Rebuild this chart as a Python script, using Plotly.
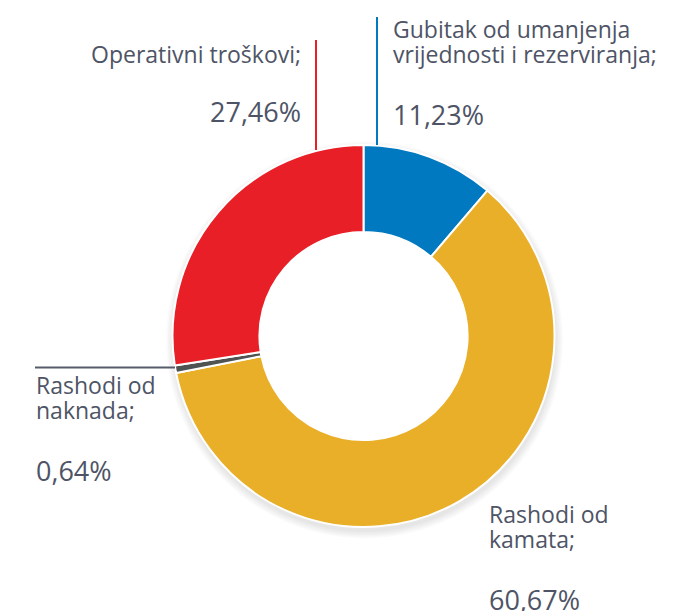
import plotly.graph_objects as go

# ---- data ----
labels = [
    "Gubitak od umanjenja<br>vrijednosti i rezerviranja;",
    "Rashodi od<br>kamata;",
    "Rashodi od<br>naknada;",
    "Operativni troškovi;",
]
values = [11.23, 60.67, 0.64, 27.46]
colors = ["#0079C1", "#E9AF28", "#4F5352", "#E81F26"]

# ---- layout constants (pixels) ----
W, H = 690, 611
CX, CY, R = 363.5, 336, 191
HOLE = 0.545
TEXT_COLOR = "#4E5466"
FONT = "Open Sans"
LABEL_SIZE = 23
PCT_SIZE = 27
LINE_GAP = 24.5

# label placement: (x, baseline of first label line, baseline of percent, xanchor)
label_pos = [
    (391, 37.5, 124, "left"),
    (487, 522.7, 609.5, "left"),
    (34, 393.3, 480.7, "left"),
    (303, 62.3, 121.5, "right"),
]
# leader lines: (x0, y0, x1, y1)
leaders = [
    (377, 17, 377, 145),
    None,
    (35, 367.5, 175, 367.5),
    (316, 40, 316, 150),
]
leader_colors = ["#0079C1", None, "#575C6A", "#E81F26"]


def px(x):
    return x / W


def py(y):
    return 1 - y / H


fig = go.Figure()
fig.add_trace(go.Pie(
    labels=[l.replace("<br>", " ") for l in labels],
    values=values,
    hole=HOLE,
    sort=False,
    direction="clockwise",
    rotation=0,
    marker=dict(colors=colors, line=dict(color="white", width=2)),
    textinfo="none",
    hoverinfo="label+percent",
    showlegend=False,
    domain=dict(x=[px(CX - R), px(CX + R)], y=[py(CY + R), py(CY - R)]),
))

shapes = []
# soft drop shadow behind the donut
for i in range(5):
    rr = R + 1 + i * 1.6
    oy = 4
    shapes.append(dict(
        type="circle", xref="paper", yref="paper", layer="below",
        x0=px(CX - rr + 1), x1=px(CX + rr + 1),
        y0=py(CY + oy + rr), y1=py(CY + oy - rr),
        fillcolor="rgba(0,0,0,0.018)", line=dict(width=0),
    ))
# keep the hole white
ri = R * HOLE + 2
shapes.append(dict(
    type="circle", xref="paper", yref="paper", layer="below",
    x0=px(CX - ri), x1=px(CX + ri), y0=py(CY + ri), y1=py(CY - ri),
    fillcolor="white", line=dict(width=0),
))
for ld, lc in zip(leaders, leader_colors):
    if ld is None:
        continue
    x0, y0, x1, y1 = ld
    shapes.append(dict(
        type="line", xref="paper", yref="paper",
        x0=px(x0), x1=px(x1), y0=py(y0), y1=py(y1),
        line=dict(color=lc, width=2),
    ))

annotations = []

for lab, v, (x, bl, bp, xa) in zip(labels, values, label_pos):
    lines = lab.split("<br>")
    n = len(lines)
    # base font size sets the line spacing (1.3em); inner spans set glyph size
    txt = "<br>".join(
        f"<span style='font-size:{LABEL_SIZE}px'>{ln}</span>" for ln in lines
    )
    center = bl + (n - 1) * LINE_GAP / 2 - 0.36 * LABEL_SIZE
    annotations.append(dict(
        text=txt, x=px(x), y=py(center), xref="paper", yref="paper",
        xanchor=xa, yanchor="middle", showarrow=False, align=xa,
        font=dict(family=FONT, size=LINE_GAP / 1.3, color=TEXT_COLOR),
    ))
    annotations.append(dict(
        text=f"{v:.2f}".replace(".", ",") + "%", x=px(x),
        y=py(bp - 0.36 * PCT_SIZE), xref="paper", yref="paper",
        xanchor=xa, yanchor="middle", showarrow=False, align=xa,
        font=dict(family=FONT, size=PCT_SIZE, color=TEXT_COLOR),
    ))

fig.update_layout(
    width=W, height=H,
    margin=dict(l=0, r=0, t=0, b=0),
    paper_bgcolor="white", plot_bgcolor="white",
    shapes=shapes, annotations=annotations,
)
fig.write_html(
    "out.html",
    config={"displayModeBar": False},
    post_script="document.body.style.margin='0';",
)
